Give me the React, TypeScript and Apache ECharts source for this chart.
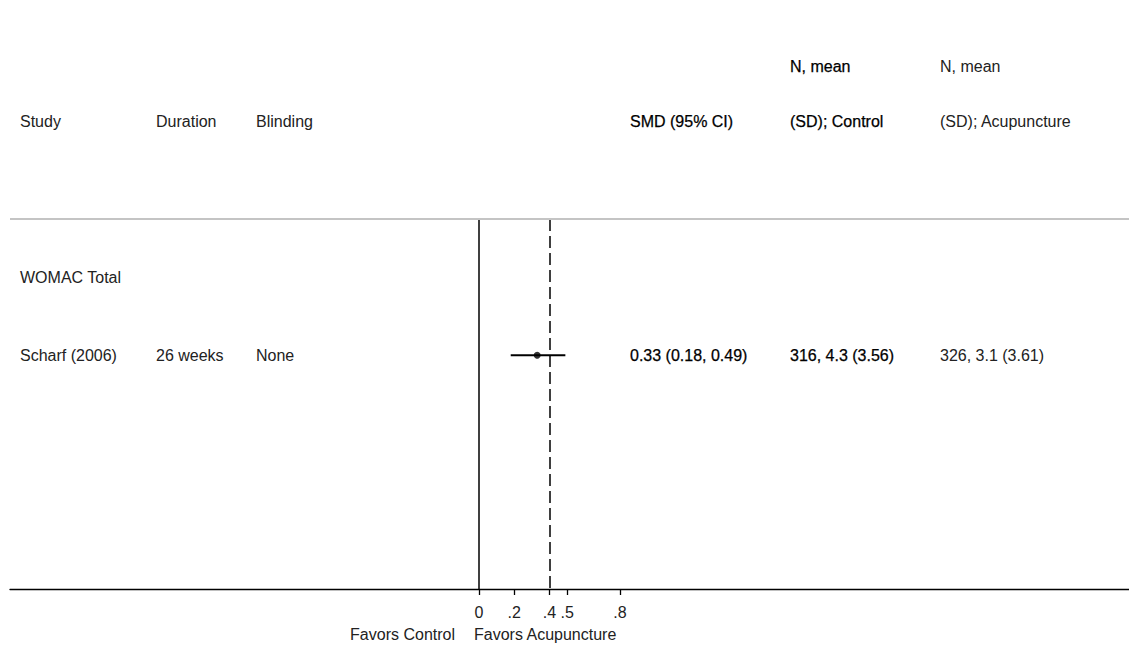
import React, { useEffect, useRef } from "react";
import * as echarts from "echarts";

// ---- data ----
const subgroupLabels = ["WOMAC Total"];
const studies = ["Scharf (2006)"];
const durations = ["26 weeks"];
const blindings = ["None"];
const smd = [0.33];
const ciLow = [0.18];
const ciHigh = [0.49];
const controlN = [316];
const controlMean = [4.3];
const controlSD = [3.56];
const acuN = [326];
const acuMean = [3.1];
const acuSD = [3.61];
const pooledLine = 0.4;
const tickValues = [0, 0.2, 0.4, 0.5, 0.8];
const tickLabels = ["0", ".2", ".4", ".5", ".8"];
const headers = ["Study", "Duration", "Blinding", "SMD (95% CI)", "(SD); Control", "(SD); Acupuncture"];
const headersTop = ["N, mean", "N, mean"];
const favorsLeft = "Favors Control";
const favorsRight = "Favors Acupuncture";

// ---- layout ----
const W = 1129;
const H = 660;
const FONT = "'Liberation Sans', Arial, Helvetica, sans-serif";
const FS = 16;
const GRID_LEFT = 10;
const GRID_TOP = 219;
const GRID_H = 370;
const ZERO_PX = 479;
const PX_PER_UNIT = 176.25;
const X_MIN = (GRID_LEFT - ZERO_PX) / PX_PER_UNIT;
const X_MAX = (W - ZERO_PX) / PX_PER_UNIT;
const ROW_MIN = 1.25;
const ROW_MAX = 6;
const HEADER_ROW = 0;
const SUBGROUP_ROW = 2;
const FIRST_STUDY_ROW = 3;
const COL_X = [20, 156, 256, 630, 790, 940];

const fmt2 = (v: number) => v.toFixed(2);

export default function App() {
  const ref = useRef<HTMLDivElement>(null);
  useEffect(() => {
    if (!ref.current) return;
    const chart = echarts.init(ref.current, null, { renderer: "svg" });
    const studyRows = studies.map((_, i) => FIRST_STUDY_ROW + i);
    chart.setOption({
      animation: false,
      grid: { left: GRID_LEFT, right: 0, top: GRID_TOP, height: GRID_H, containLabel: false },
      xAxis: {
        type: "value",
        min: X_MIN,
        max: X_MAX,
        splitLine: { show: false },
        axisLine: { show: true, onZero: false, lineStyle: { color: "#000", width: 1.3 } },
        axisTick: { show: true, customValues: tickValues, length: 6, lineStyle: { color: "#000", width: 1.3 } },
        axisLabel: {
          customValues: tickValues,
          formatter: (v: number) => {
            const i = tickValues.findIndex((t) => Math.abs(t - v) < 1e-9);
            return i >= 0 ? tickLabels[i] : "";
          },
          fontFamily: FONT,
          fontSize: FS,
          color: "#222",
          margin: 15,
        },
      },
      yAxis: { type: "value", min: ROW_MIN, max: ROW_MAX, inverse: true, show: false },
      series: [
        {
          type: "custom",
          silent: true,
          data: studies.map((_, i) => [ciLow[i], ciHigh[i], studyRows[i]]),
          renderItem: (params: any, api: any) => {
            const p1 = api.coord([api.value(0), api.value(2)]);
            const p2 = api.coord([api.value(1), api.value(2)]);
            return {
              type: "line",
              shape: { x1: p1[0], y1: p1[1], x2: p2[0], y2: p2[1] },
              style: { stroke: "#000", lineWidth: 2 },
            };
          },
          z: 3,
        },
        {
          type: "scatter",
          silent: true,
          symbol: "circle",
          symbolSize: 7,
          itemStyle: { color: "#000" },
          data: studies.map((_, i) => [smd[i], studyRows[i]]),
          z: 4,
          markLine: {
            silent: true,
            symbol: "none",
            label: { show: false },
            data: [
              { xAxis: 0, lineStyle: { color: "#000", width: 1.5, type: "solid" } },
              { xAxis: pooledLine, lineStyle: { color: "#000", width: 1.5, type: [12, 5] } },
              { yAxis: ROW_MIN, lineStyle: { color: "#c4c4c4", width: 2, type: "solid" } },
            ],
          },
        },
      ],
    });

    const rowY = (r: number) => chart.convertToPixel({ gridIndex: 0 }, [0, r])[1] as number;
    const zeroX = chart.convertToPixel({ gridIndex: 0 }, [0, ROW_MIN])[0] as number;

    const txt = (x: number, y: number, s: string, bold = false, align = "left") => ({
      type: "text",
      x,
      y,
      silent: true,
      style: {
        text: s,
        fill: bold ? "#000" : "#222",
        font: `${FS}px ${FONT}`,
        textAlign: align,
        textVerticalAlign: "middle",
        stroke: bold ? "#000" : undefined,
        lineWidth: bold ? 0.25 : 0,
      },
    });

    const els: any[] = [];
    const hy = rowY(HEADER_ROW);
    headers.forEach((h, i) => els.push(txt(COL_X[i], hy, h, i === 3 || i === 4)));
    els.push(txt(COL_X[4], 66, headersTop[0], true));
    els.push(txt(COL_X[5], 66, headersTop[1], false));
    subgroupLabels.forEach((s) => els.push(txt(COL_X[0], rowY(SUBGROUP_ROW), s)));
    studies.forEach((s, i) => {
      const y = rowY(studyRows[i]);
      els.push(txt(COL_X[0], y, s));
      els.push(txt(COL_X[1], y, durations[i]));
      els.push(txt(COL_X[2], y, blindings[i]));
      els.push(txt(COL_X[3], y, `${fmt2(smd[i])} (${fmt2(ciLow[i])}, ${fmt2(ciHigh[i])})`, true));
      els.push(txt(COL_X[4], y, `${controlN[i]}, ${controlMean[i]} (${fmt2(controlSD[i])})`, true));
      els.push(txt(COL_X[5], y, `${acuN[i]}, ${acuMean[i]} (${fmt2(acuSD[i])})`));
    });
    els.push(txt(zeroX - 24, 634, favorsLeft, false, "right"));
    els.push(txt(zeroX - 5, 634, favorsRight, false, "left"));

    chart.setOption({ graphic: { elements: els } });
    return () => chart.dispose();
  }, []);
  return <div ref={ref} style={{ position: "absolute", left: 0, top: 0, width: W, height: H }} />;
}
